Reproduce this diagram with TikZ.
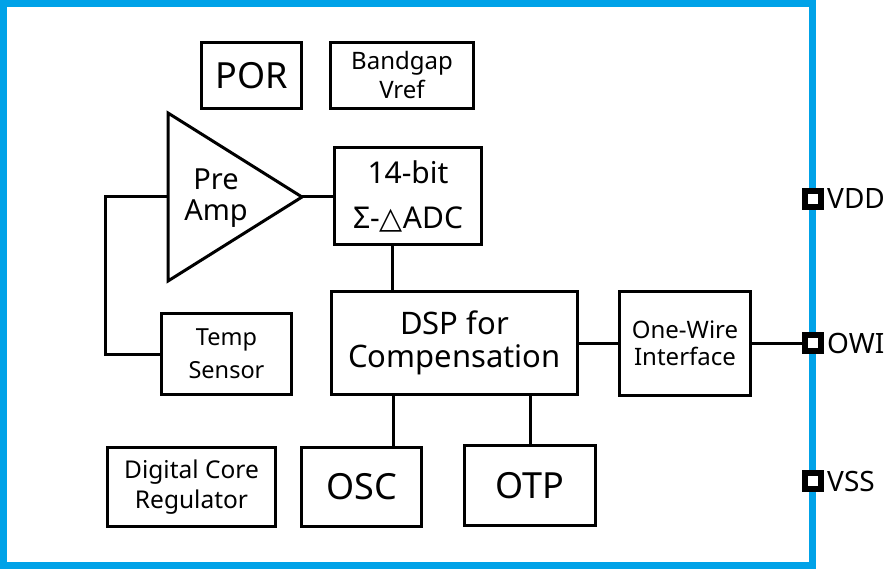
\documentclass[tikz,border=0pt]{standalone}
\usepackage{fontspec}
\setmainfont{Noto Sans}
\newfontfamily\dejavu{DejaVu Sans}
\definecolor{chipblue}{RGB}{0,162,232}
\begin{document}
\begin{tikzpicture}[x=1pt,y=-1pt,
  blk/.style={draw=black, line width=3pt, align=center, inner sep=0pt},
  wire/.style={draw=black, line width=3pt},
  pinbox/.style={draw=black, fill=white, line width=6pt, minimum size=16pt, inner sep=0pt},
  pinlabel/.style={anchor=west, inner sep=0pt, font=\fontsize{28}{30}\selectfont}]
\useasboundingbox (0,0) rectangle (890,569);
\draw[chipblue, line width=7pt] (3.5,3.5) rectangle (812.5,565);
% blocks
\node[blk, minimum width=100pt, minimum height=66pt, font=\fontsize{36}{40}\selectfont] (por) at (251.5,75.5) {POR};
\node[blk, minimum width=143pt, minimum height=66pt, font=\fontsize{24}{29}\selectfont] (bg) at (402,75.5) {Bandgap\\Vref};
\node[blk, minimum width=147pt, minimum height=97pt, font=\fontsize{30}{45}\selectfont] (adc) at (408,196) {14-bit\\Σ-{\dejavu △}ADC};
\node[blk, minimum width=246pt, minimum height=103pt, font=\fontsize{31}{33}\selectfont] (dsp) at (454.5,343) {DSP for\\Compensation};
\node[blk, minimum width=131pt, minimum height=104pt, font=\fontsize{24}{27}\selectfont] (owi) at (685,343) {One-Wire\\Interface};
\node[blk, minimum width=130pt, minimum height=81pt, font=\fontsize{23.5}{33}\selectfont] (temp) at (226.5,354) {Temp\\Sensor};
\node[blk, minimum width=168pt, minimum height=79pt, font=\fontsize{24.5}{30}\selectfont] (dcr) at (191.5,487) {Digital Core\\Regulator};
\node[blk, minimum width=120pt, minimum height=79pt, font=\fontsize{36}{40}\selectfont] (osc) at (361.5,487) {OSC};
\node[blk, minimum width=131pt, minimum height=80pt, font=\fontsize{36}{40}\selectfont] (otp) at (530,485.5) {OTP};
% pre amp triangle
\coordinate (ta) at (168,113);
\coordinate (tb) at (168,281);
\coordinate (tip) at (302,197);
\draw[wire, line join=miter] (ta) -- (tip) -- (tb) -- cycle;
\node[align=center, inner sep=0pt, font=\fontsize{29}{31}\selectfont] (pre) at (216,198) {Pre\\Amp};
% connectors
\coordinate (lx) at (105,197);
\coordinate (c1) at (392,0);
\coordinate (c2) at (393,0);
\draw[wire] (tip) -- (tip -| adc.west);
\draw[wire] (temp.west) -| (lx) -- (lx -| ta);
\draw[wire] (adc.south -| c1) -- (dsp.north -| c1);
\draw[wire] (dsp.south -| c2) -- (osc.north -| c2);
\draw[wire] (dsp.south -| otp.north) -- (otp.north);
\draw[wire] (owi.west -| dsp.east) -- (owi.west);
% pins
\node[pinbox] (pvdd) at (812.5,199) {};
\node[pinbox] (powi) at (812.5,343) {};
\node[pinbox] (pvss) at (812.5,481) {};
\draw[wire] (owi.east) -- (powi.west);
\node[pinlabel] (lvdd) at (827,199) {VDD};
\node[pinlabel] (lowi) at (827,343) {OWI};
\node[pinlabel] (lvss) at (827,481) {VSS};
\end{tikzpicture}
\end{document}
